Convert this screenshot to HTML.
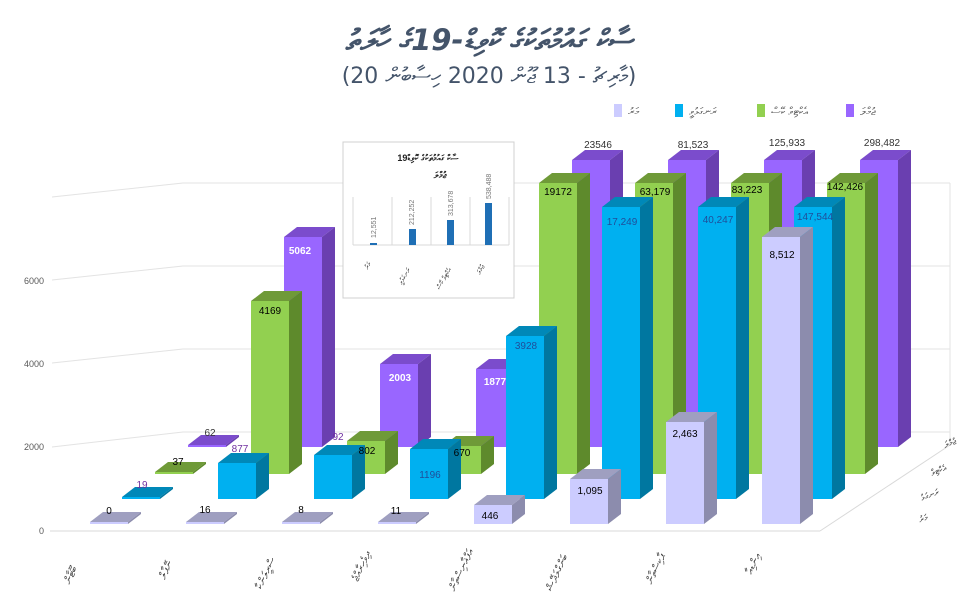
<!DOCTYPE html>
<html><head><meta charset="utf-8">
<style>
html,body{margin:0;padding:0;background:#fff;}
svg{display:block;font-family:"Liberation Sans","DejaVu Sans",sans-serif;}
</style></head>
<body>
<svg id="c" width="978" height="592" viewBox="0 0 978 592" xmlns="http://www.w3.org/2000/svg">
<rect width="978" height="592" fill="#fff"/>
<text x="489" y="50" text-anchor="middle" font-size="29" font-weight="600" font-style="italic" fill="#44546a" font-family="'DejaVu Sans',sans-serif">ސާކް ގައުމުތަކުގެ ކޮވިޑް-19ގެ ހާލަތު</text>
<text x="489" y="83" text-anchor="middle" font-size="22" fill="#44546a" font-family="'DejaVu Sans',sans-serif">(20 މާރިޗު - 13 ޖޫން 2020 ހިސާބުން)</text>
<rect x="614" y="104" width="8" height="13" fill="#ccccff"/><text x="628" y="115" font-size="11" fill="#555">މަރު</text>
<rect x="675" y="104" width="8" height="13" fill="#00b0f0"/><text x="689" y="115" font-size="11" fill="#555">ރަނގަޅުވީ</text>
<rect x="757" y="104" width="8" height="13" fill="#92d050"/><text x="771" y="115" font-size="11" fill="#555">އެކްޓިވް ކޭސް</text>
<rect x="846" y="104" width="8" height="13" fill="#9966ff"/><text x="860" y="115" font-size="11" fill="#555">ޖުމްލަ</text>
<g stroke="#e3e3e3" stroke-width="1" fill="none">
<line x1="183" y1="183" x2="950" y2="183"/>
<line x1="183" y1="266" x2="950" y2="266"/>
<line x1="183" y1="349" x2="950" y2="349"/>
<line x1="183" y1="432" x2="950" y2="432"/>
<line x1="52" y1="280" x2="183" y2="266"/>
<line x1="52" y1="363" x2="183" y2="349"/>
<line x1="52" y1="447" x2="183" y2="432"/>
<line x1="52" y1="197" x2="183" y2="183"/>
<line x1="50" y1="531" x2="820" y2="531" stroke="#d9d9d9"/>
<line x1="820" y1="531" x2="950" y2="445" stroke="#d9d9d9"/>
<line x1="950" y1="183" x2="950" y2="445"/>
</g>
<g font-size="9" fill="#595959" text-anchor="end">
<text x="44" y="284">6000</text>
<text x="44" y="367">4000</text>
<text x="44" y="450">2000</text>
<text x="44" y="534">0</text>
</g>
<g id="bars"></g>
<g font-size="10" text-anchor="middle">
<text x="109" y="514" fill="#000">0</text>
<text x="205" y="513" fill="#000">16</text>
<text x="301" y="513" fill="#000">8</text>
<text x="396" y="514" fill="#000">11</text>
<text x="142" y="488" fill="#7030a0">19</text>
<text x="178" y="465" fill="#000">37</text>
<text x="210" y="436" fill="#333">62</text>
<text x="240" y="452" fill="#7030a0">877</text>
<text x="338" y="440" fill="#7030a0">92</text>
<text x="367" y="454" fill="#000">802</text>
<text x="430" y="478" fill="#1f4e9a">1196</text>
<text x="462" y="456" fill="#000">670</text>
<text x="400" y="381" fill="#fff" font-weight="bold">2003</text>
<text x="495" y="385" fill="#fff" font-weight="bold">1877</text>
<text x="300" y="254" fill="#fff" font-weight="bold">5062</text>
<text x="270" y="314" fill="#000">4169</text>
<text x="526" y="349" fill="#1f4e9a">3928</text>
<text x="490" y="519" fill="#000">446</text>
<text x="590" y="494" fill="#000">1,095</text>
<text x="685" y="437" fill="#000">2,463</text>
<text x="782" y="258" fill="#000">8,512</text>
<text x="622" y="225" fill="#1f4e9a">17,249</text>
<text x="718" y="223" fill="#1f4e9a">40,247</text>
<text x="815" y="220" fill="#1f4e9a">147,544</text>
<text x="558" y="195" fill="#000">19172</text>
<text x="655" y="195" fill="#000">63,179</text>
<text x="747" y="193" fill="#000">83,223</text>
<text x="845" y="190" fill="#000">142,426</text>
<text x="598" y="148" fill="#333">23546</text>
<text x="693" y="148" fill="#333">81,523</text>
<text x="787" y="146" fill="#333">125,933</text>
<text x="882" y="146" fill="#333">298,482</text>
</g>
<g font-size="11" fill="#444">
<text transform="translate(70,585) rotate(-65)">ބޫޓާން</text>
<text transform="translate(165,580) rotate(-65)">ނޭޕާލް</text>
<text transform="translate(262,590) rotate(-65)">ސްރީލަންކާ</text>
<text transform="translate(358,582) rotate(-65)">ދިވެހިރާއްޖެ</text>
<text transform="translate(455,592) rotate(-65)">އަފްޣާނިސްތާން</text>
<text transform="translate(552,592) rotate(-65)">ބަންގްލަދޭޝް</text>
<text transform="translate(652,585) rotate(-65)">ޕާކިސްތާން</text>
<text transform="translate(752,575) rotate(-65)">އިންޑިއާ</text>
</g>
<g font-size="9" fill="#444">
<text transform="translate(945,448) rotate(-20)">ޖުމްލަ</text>
<text transform="translate(932,476) rotate(-20)">އެކްޓިވް</text>
<text transform="translate(922,501) rotate(-20)">ރަނގަޅު</text>
<text transform="translate(920,523) rotate(-20)">މަރު</text>
</g>
<rect x="343" y="142" width="171" height="156" fill="#fff" stroke="#d0d0d0"/>
<text x="428" y="161" text-anchor="middle" font-size="9" font-weight="bold" fill="#222">ސާކް ގައުމުތަކުގެ ކޮވިޑް19</text>
<text x="440" y="178" text-anchor="middle" font-size="9" font-weight="bold" fill="#222">ޖުމްލަ</text>
<g stroke="#d9d9d9"><line x1="353" y1="197" x2="353" y2="245"/><line x1="392" y1="197" x2="392" y2="245"/><line x1="431" y1="197" x2="431" y2="245"/><line x1="470" y1="197" x2="470" y2="245"/><line x1="509" y1="197" x2="509" y2="245"/><line x1="353" y1="245" x2="509" y2="245"/></g>
<rect x="370" y="243" width="7" height="2" fill="#1f6fb5"/>
<rect x="409" y="229" width="7" height="16" fill="#1f6fb5"/>
<rect x="447" y="220" width="7" height="25" fill="#1f6fb5"/>
<rect x="485" y="203" width="7" height="42" fill="#1f6fb5"/>
<g font-size="7" fill="#777">
<text transform="translate(376,238) rotate(-90)">12,551</text>
<text transform="translate(414,225) rotate(-90)">212,252</text>
<text transform="translate(453,216) rotate(-90)">313,678</text>
<text transform="translate(491,199) rotate(-90)">538,488</text>
</g>
<g font-size="7" fill="#333">
<text transform="translate(368,270) rotate(-60)">މަރު</text>
<text transform="translate(402,285) rotate(-60)">ރަނގަޅުވީ</text>
<text transform="translate(440,290) rotate(-60)">އެކްޓިވް ކޭސް</text>
<text transform="translate(480,275) rotate(-60)">ޖުމްލަ</text>
</g>
</svg>
<script>
(function(){
var g=document.getElementById('bars');var NS='http://www.w3.org/2000/svg';
function poly(pts,fill){var p=document.createElementNS(NS,'polygon');p.setAttribute('points',pts.map(function(a){return a.join(',')}).join(' '));p.setAttribute('fill',fill);g.appendChild(p);}
function bar(x,top,base,c){var w=38,dx=13,dy=-10;
 if(base-top<3){top=base-2;}
 poly([[x,top],[x+dx,top+dy],[x+w+dx,top+dy],[x+w,top]],c[2]);
 poly([[x+w,base],[x+w,top],[x+w+dx,top+dy],[x+w+dx,base+dy]],c[1]);
 var r=document.createElementNS(NS,'rect');r.setAttribute('x',x);r.setAttribute('y',top);r.setAttribute('width',w);r.setAttribute('height',base-top);r.setAttribute('fill',c[0]);g.appendChild(r);}
var P=['#9966ff','#6a3fb0','#7b4ccc'],G=['#92d050','#5e8a2c','#6f9a38'],B=['#00b0f0','#0077a0','#0088b8'],L=['#ccccff','#8c8cad','#9f9fc0'];
var rows=[[188,447,[445,237,364,369,160,160,160,160],P],[155,474,[472,301,441,446,183,183,183,183],G],[122,499,[497,463,455,449,336,207,207,207],B],[90,524,[522,522,522,522,505,479,422,237],L]];
rows.forEach(function(r){for(var k=0;k<8;k++)bar(r[0]+96*k,r[2][k],r[1],r[3]);});
})();
</script>
</body></html>
